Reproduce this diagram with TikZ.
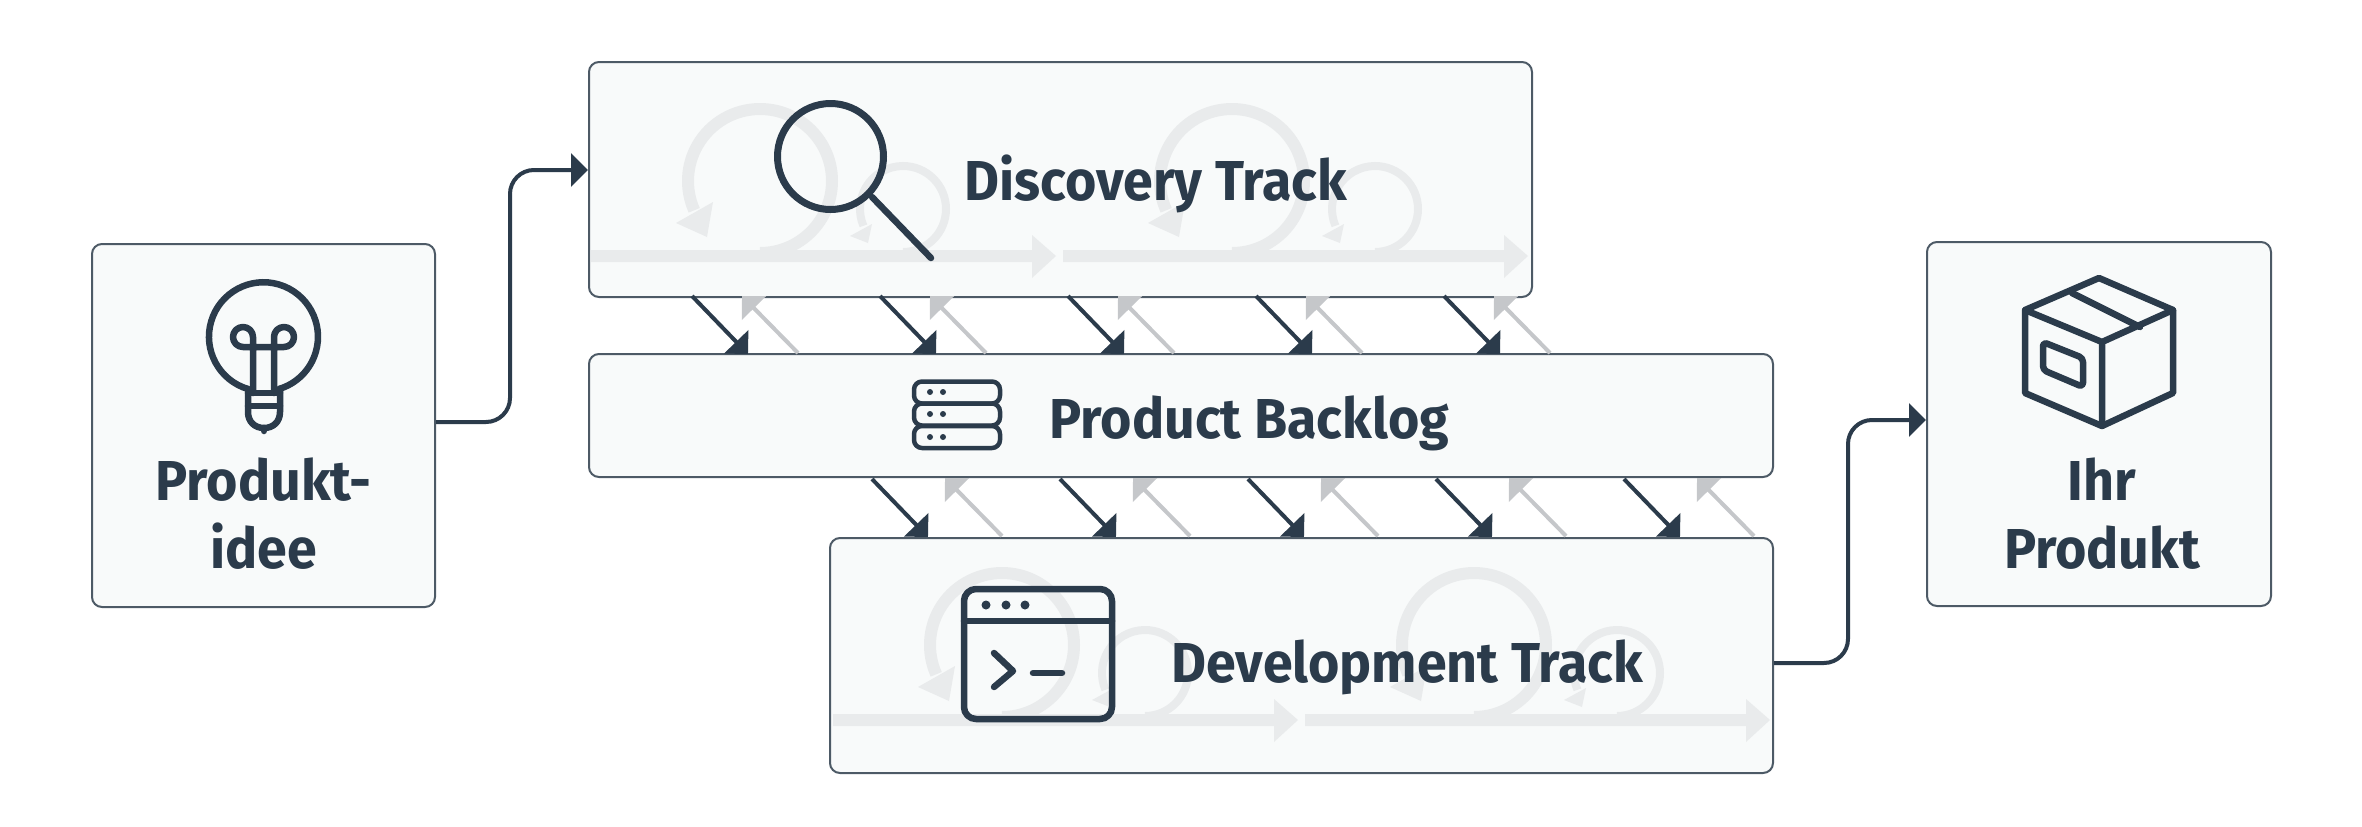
\documentclass[tikz,border=0pt]{standalone}
\usepackage{fontspec}
\setmainfont[FakeStretch=0.955]{Fira Sans}
\usetikzlibrary{arrows.meta}
\definecolor{ink}{HTML}{2B3B4B}
\definecolor{frame}{HTML}{4D5A66}
\definecolor{panel}{HTML}{F8FAFA}
\definecolor{loopgrey}{HTML}{E9EBEC}
\definecolor{pale}{HTML}{C5C7CA}
\def\px{0.01cm}
\tikzset{
	trackbox/.style={draw=frame, fill=panel, line width=2*\px, rounded corners=10*\px, inner sep=0pt},
	label/.style={text=ink, font=\fontsize{16}{16}\selectfont\bfseries, inner sep=0pt},
	link/.style={draw=ink, line width=4*\px, rounded corners=24*\px, -{Triangle[length=17*\px, width=33*\px]}},
	backlink/.style={draw=pale, line width=4*\px, -{Triangle[length=17*\px, width=33*\px]}},
	icon/.style={draw=ink, line width=6.5*\px, line cap=round, line join=round}
}

\begin{document}
\begin{tikzpicture}[x=0.01cm, y=-0.01cm]
	\useasboundingbox (0,0) rectangle (2362,827);
	% boxes
	\node[trackbox, minimum width=343*\px, minimum height=363*\px] (idee) at (263.5,425.5) {};
	\node[trackbox, minimum width=943*\px, minimum height=235*\px] (discovery) at (1060.5,179.5) {};
	\node[trackbox, minimum width=1184*\px, minimum height=123*\px] (backlog) at (1181,415.5) {};
	\node[trackbox, minimum width=943*\px, minimum height=235*\px] (development) at (1301.5,655.5) {};
	\node[trackbox, minimum width=344*\px, minimum height=364*\px] (ihr) at (2099,424) {};
	% pale loops behind the tracks
	\foreach \dx/\dy in {0/0,472/0,242/464,714/464} {
		\begin{scope}[shift={(\dx,\dy)}]
			\fill[loopgrey] (591,250) -- (1032,250) -- (1032,235) -- (1056,256) -- (1032,278) -- (1032,262) -- (591,262) -- cycle;
			\draw[loopgrey, line width=12*\px] (760,253) arc[start angle=90, end angle=-204, radius=72];
			\fill[loopgrey] (713,202) -- (676,223) -- (707,237) -- cycle;
			\draw[loopgrey, line width=8*\px] (903,252) arc[start angle=90, end angle=-203, radius=43];
			\fill[loopgrey] (872,224) -- (850,236) -- (868,243) -- cycle;
		\end{scope}
	}
	% arrows between the boxes
	\foreach \n in {0,...,4} {
		\coordinate (topa\n) at (692+188*\n,296);
		\coordinate (topb\n) at (748+188*\n,354);
		\coordinate (topc\n) at (798+188*\n,353);
		\coordinate (topd\n) at (742+188*\n,296);
		\coordinate (lowa\n) at (872+188*\n,479);
		\coordinate (lowb\n) at (928+188*\n,537);
		\coordinate (lowc\n) at (1002+188*\n,536);
		\coordinate (lowd\n) at (945+188*\n,478);
		\draw[backlink] (topc\n) -- (topd\n);
		\draw[backlink] (lowc\n) -- (lowd\n);
		\draw[link] (topa\n) -- (topb\n);
		\draw[link] (lowa\n) -- (lowb\n);
	}
	\coordinate (ideatop) at (510,170);
	\coordinate (devtop) at (1848,420);
	\draw[link] ([yshift=3.5*\px]idee.east) -| (ideatop) -- (ideatop -| discovery.west);
	\draw[link] ([yshift=-7.5*\px]development.east) -| (devtop) -- (devtop -| ihr.west);
	% texts
	\node[label, anchor=base] (ideea) at (263.5,500) {Produkt-};
	\node[label, anchor=base] (ideeb) at (263.5,568) {idee};
	\node[label, anchor=base] (ihra) at (2102,500) {Ihr};
	\node[label, anchor=base] (ihrb) at (2102,568) {Produkt};
	\node[label, anchor=base west] (discoverytext) at (964,200) {Discovery Track};
	\node[label, anchor=base west] (backlogtext) at (1049,438) {Product Backlog};
	\node[label, anchor=base west] (developmenttext) at (1171,682) {Development Track};
	% bulb
	\draw[icon] (248,389) arc[start angle=106.5, end angle=433.5, radius=54.5];
	\draw[icon] (248,389) -- (248,412) .. controls (248,422) and (255,428) .. (264,428) .. controls (273,428) and (280,422) .. (280,412) -- (280,389);
	\draw[icon] (248,393) -- (280,393) (248,406) -- (280,406) (264,428) -- (264,431);
	\draw[icon] (253,393) -- (253,337) arc[start angle=0, end angle=-270, radius=10] -- (284,347) arc[start angle=90, end angle=-180, radius=10] -- (274,393);
	% magnifier
	\draw[icon, line width=7*\px] (830.5,156.5) circle (53);
	\draw[icon] (872,197) -- (931,258);
	% stack
	\foreach \y in {381.5,403.5,426}
		\draw[icon, line width=4.5*\px, rounded corners=8*\px] (914,\y) rectangle (1000,\y+22);
	\foreach \y in {392,414,437}
		\fill[ink] (930,\y) circle (3) (943,\y) circle (3);
	% window
	\draw[icon, rounded corners=12*\px] (964,589) rectangle (1112,719);
	\draw[icon] (964,621) -- (1112,621);
	\foreach \x in {986,1006,1025}
		\fill[ink] (\x,605) circle (4.5);
	\draw[icon] (994,653) -- (1013,671) -- (994,687);
	\draw[icon] (1033,673) -- (1062,673);
	% parcel
	\draw[icon] (2099,278) -- (2173,310) -- (2173,393) -- (2102,426) -- (2025,393) -- (2025,310) -- cycle;
	\draw[icon] (2025,310) -- (2102,342) -- (2173,310) (2102,342) -- (2102,426) (2072,293) -- (2140,327);
	\draw[icon, rounded corners=4*\px] (2043,342) -- (2083,358) -- (2083,387) -- (2043,370) -- cycle;
\end{tikzpicture}
\end{document}
